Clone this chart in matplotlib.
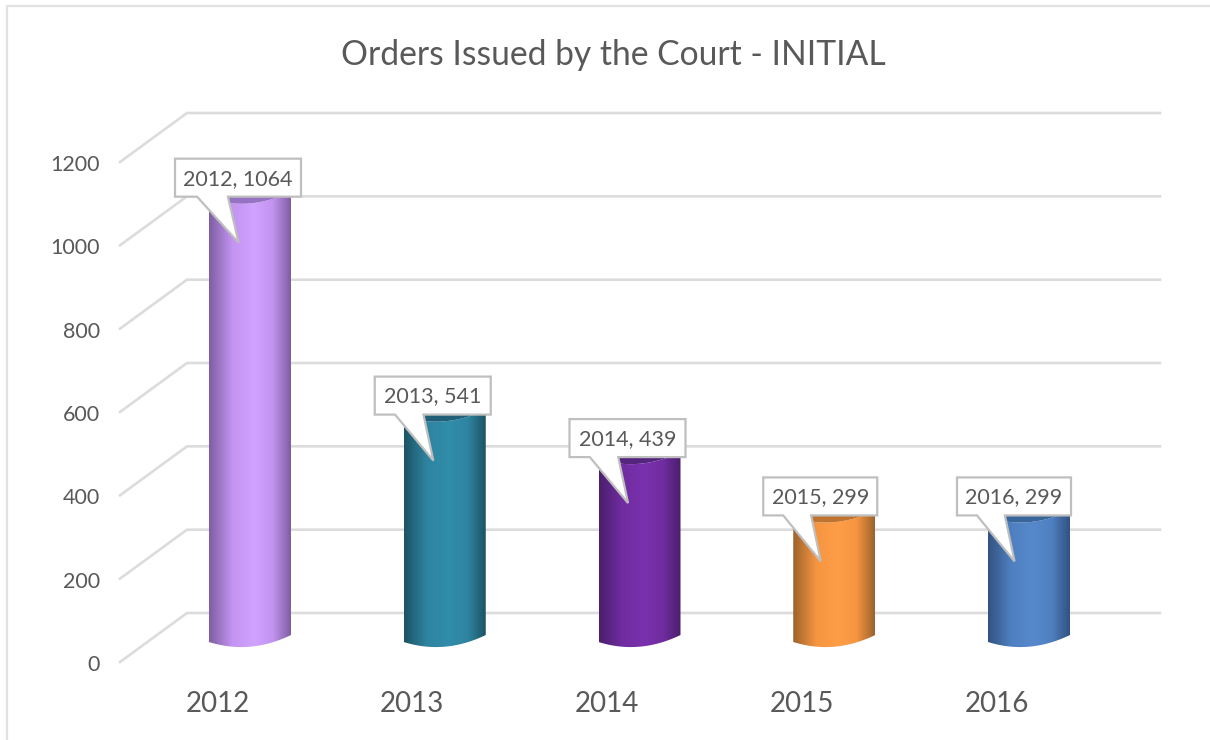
import numpy as np
import matplotlib
matplotlib.use("Agg")
import matplotlib.pyplot as plt
from matplotlib.colors import LinearSegmentedColormap, to_rgb
from matplotlib.patches import Polygon

plt.rcParams['font.family'] = ['Lato', 'DejaVu Sans']

years = ['2012', '2013', '2014', '2015', '2016']
values = [1064, 541, 439, 299, 299]
y_ticks = [0, 200, 400, 600, 800, 1000, 1200]
title = 'Orders Issued by the Court - INITIAL'

bar_mid = ['#D2A2FF', '#318DAA', '#7B31AE', '#FF9E47', '#5689CC']
bar_base = ['#C293F0', '#2E84A0', '#702CA0', '#F59540', '#4F7FC0']
bar_edge = ['#7E5EA2', '#1C5364', '#4A1F6C', '#9C622C', '#315380']
bar_top = ['#9672C2', '#1F6078', '#55247E', '#BE7430', '#38659A']

label_left = [-75, -70, -70, -71, -72]
label_w = [126, 116, 116, 114, 114]

GRID = '#DCDCDC'
TXT = '#595959'
PX_X = 194.75        # pixels per category
PX_Y = 500 / 1200    # pixels per value unit


def dx(p):
    return p / PX_X


def dy(p):
    return p / PX_Y


fig = plt.figure(figsize=(12.1, 7.4), dpi=100, facecolor='white')
ax = fig.add_axes([0, 0, 1, 1])
ax.axis('off')
xlim = (-250 / PX_X, (1210 - 250) / PX_X)
ylim = ((635 - 740) / PX_Y, 635 / PX_Y)

# outer chart frame
ax.plot([xlim[0] + dx(6.5), xlim[0] + dx(6.5), xlim[1]],
        [ylim[0], ylim[1] - dy(6.5), ylim[1] - dy(6.5)],
        color='#E2E2E2', lw=1.6, zorder=1)

# walls / gridlines
for v in y_ticks:
    ax.plot([-dx(130), -dx(63), xlim[1] - dx(50)],
            [v - dy(27), v + dy(22), v + dy(22)],
            color=GRID, lw=1.9, zorder=2, solid_joinstyle='miter')
    ax.text(-dx(150), v - dy(30), str(v), ha='right', va='center',
            color=TXT, fontsize=15.5, zorder=6)

half = dx(41)
tilt = dy(7)
sag = dy(8.2)
t = np.linspace(0, 1, 60)
xs_rel = -half + 2 * half * t
front = -tilt * (1 - t) - sag * 4 * t * (1 - t)
back = -tilt * (1 - t) + sag * 4 * t * (1 - t)
grad = np.linspace(0, 1, 256)

for i, (year, val) in enumerate(zip(years, values)):
    cmap = LinearSegmentedColormap.from_list(
        year,
        [(0.0, to_rgb(bar_edge[i])), (0.28, to_rgb(bar_base[i])),
         (0.55, to_rgb(bar_mid[i])), (0.78, to_rgb(bar_base[i])),
         (1.0, to_rgb(bar_edge[i]))])
    # cylinder body
    verts = (list(zip(i + xs_rel, front)) +
             list(zip(i + xs_rel[::-1], val + front[::-1])))
    body = Polygon(verts, closed=True, facecolor='none', edgecolor='none')
    ax.add_patch(body)
    im = ax.imshow(grad[None, :], extent=(i - half, i + half, -dy(20), val + dy(20)),
                   cmap=cmap, aspect='auto', zorder=3, interpolation='bilinear')
    im.set_clip_path(body)
    # top face
    top_verts = (list(zip(i + xs_rel, val + front)) +
                 list(zip(i + xs_rel[::-1], val + back[::-1])))
    ax.add_patch(Polygon(top_verts, closed=True, facecolor=bar_top[i],
                         edgecolor='none', zorder=4))

    # x labels
    ax.text(i - dx(32.5), -dy(69), year, ha='center', va='center',
            color=TXT, fontsize=20, zorder=6)

    # callout
    left = i + dx(label_left[i])
    w = dx(label_w[i])
    bottom = val - dy(5)
    top = bottom + dy(38)
    b0 = left + 0.175 * w
    b1 = left + 0.42 * w
    tip = (left + 0.505 * w, bottom - dy(46))
    ax.add_patch(Polygon([(left, bottom), (b0, bottom), tip, (b1, bottom),
                          (left + w, bottom), (left + w, top), (left, top)],
                         closed=True, facecolor='white', edgecolor='#BFBFBF',
                         lw=1.6, zorder=5, joinstyle='miter'))
    ax.text(left + w / 2, (bottom + top) / 2 - dy(1), f'{year}, {val}', ha='center', va='center',
            color=TXT, fontsize=15.5, zorder=6)

ax.text(363 / PX_X, (635 - 55) / PX_Y, title, ha='center', va='center',
        color=TXT, fontsize=24.2, zorder=6)

ax.set_xlim(xlim)
ax.set_ylim(ylim)
fig.savefig('out.png', dpi=100)
